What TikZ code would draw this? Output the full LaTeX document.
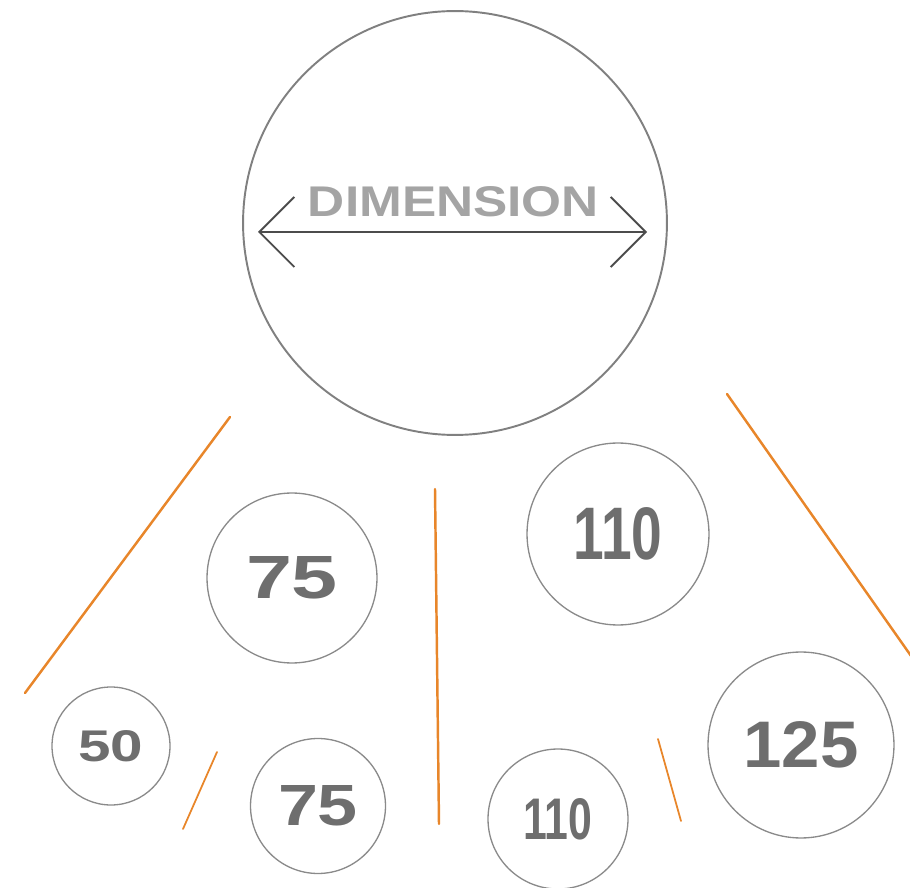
\documentclass[tikz,border=0pt]{standalone}
\usepackage{fontspec}
\setsansfont{Liberation Sans}
\usetikzlibrary{arrows.meta}
\definecolor{ringgray}{HTML}{8A8A8A}
\definecolor{numgray}{HTML}{6E6E6E}
\definecolor{labelgray}{HTML}{A4A4A4}
\definecolor{stroke}{HTML}{E8862A}
\newcommand{\fitnum}[3]{\resizebox{#1}{#2}{\sffamily\bfseries #3}}

\begin{document}
\begin{tikzpicture}[
    x=0.02cm, y=-0.02cm,
    ring/.style={circle, draw=ringgray, line width=0.75pt, inner sep=0pt, text=numgray},
    bigring/.style={circle, draw=gray, line width=1.1pt, inner sep=0pt},
    cut/.style={draw=stroke, line width=1.4pt, line cap=round},
    smallcut/.style={draw=stroke, line width=1pt, line cap=round},
    dimarrow/.style={{Straight Barb[length=0.7cm, width=1.4cm]}-{Straight Barb[length=0.7cm, width=1.4cm]}, draw=black!70, line width=1.1pt}
]
\useasboundingbox (0,0) rectangle (910,888);

\node[bigring, minimum size=8.48cm] (dim) at (455,223) {};
\node[text=labelgray] (dimlabel) at (453.5,202) {\fitnum{5.82cm}{0.6cm}{DIMENSION}};
\coordinate (arrl) at (258,232);
\coordinate (arrr) at (647,232);
\draw[dimarrow] (arrl) -- (arrr);

\node[ring, minimum size=3.4cm] (r75a) at (292,578) {\fitnum{1.84cm}{0.84cm}{75}};
\node[ring, minimum size=2.36cm] (r50) at (111,746) {\fitnum{1.3cm}{0.62cm}{50}};
\node[ring, minimum size=2.7cm] (r75b) at (318,806) {\fitnum{1.6cm}{0.8cm}{75}};
\node[ring, minimum size=3.64cm] (r110a) at (618,534) {\fitnum{1.78cm}{1.04cm}{110}};
\node[ring, minimum size=3.72cm] (r125) at (801,745) {\fitnum{2.3cm}{0.92cm}{125}};
\node[ring, minimum size=2.8cm] (r110b) at (558,819) {\fitnum{1.38cm}{0.82cm}{110}};

\draw[cut] (230,417) -- (25,693);
\draw[cut] (435,489) -- (439,824);
\draw[cut] (727,394) -- (916,663);
\draw[smallcut] (217,752) -- (183,829);
\draw[smallcut] (658,739) -- (681,821);
\end{tikzpicture}
\end{document}
